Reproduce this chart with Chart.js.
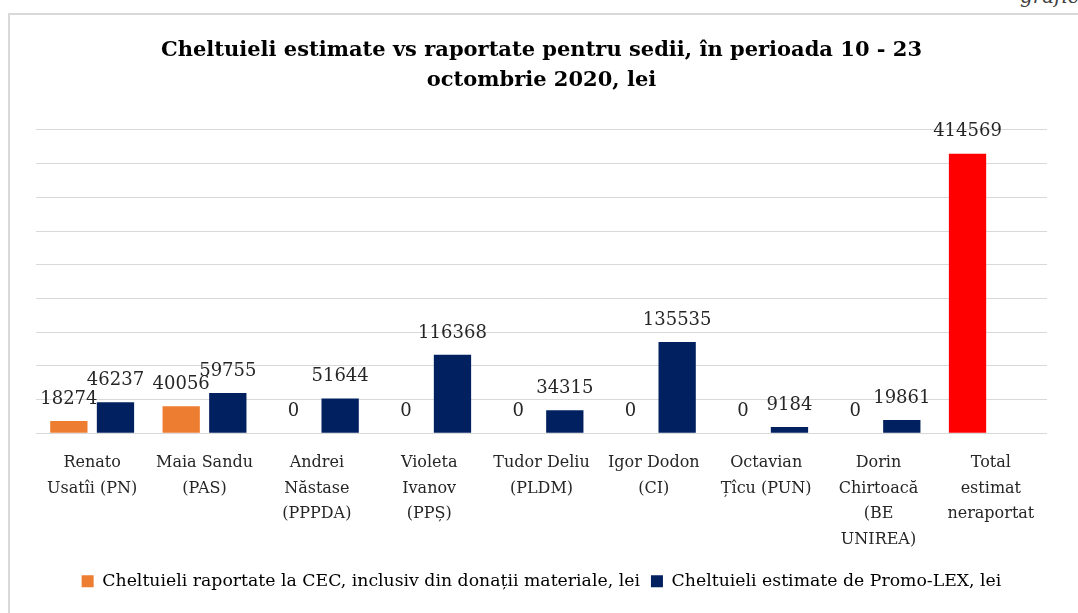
<!DOCTYPE html>
<html>
<head>
<meta charset="utf-8">
<script src="https://cdn.jsdelivr.net/npm/chart.js@4.4.0/dist/chart.umd.min.js"></script>
<style>
  body { margin: 0; background: #fff; overflow: hidden; }
  #box { position: absolute; left: 8px; top: 13px; width: 1080px; height: 620px;
         border-top: 2px solid #d9d9d9; border-left: 2px solid #d9d9d9; }
  #note { position: absolute; left: 1020px; top: -16px; font: italic 20px "DejaVu Serif"; color: #404040; }
</style>
</head>
<body>
<div id="note">grafic</div>
<div id="box"><canvas id="myChart" width="1068" height="598"></canvas></div>
<script>
// categories (candidates) and the two series, values in lei
const candidates = [
  ['Renato', 'Usatîi (PN)'],
  ['Maia Sandu', '(PAS)'],
  ['Andrei', 'Năstase', '(PPPDA)'],
  ['Violeta', 'Ivanov', '(PPȘ)'],
  ['Tudor Deliu', '(PLDM)'],
  ['Igor Dodon', '(CI)'],
  ['Octavian', 'Țîcu (PUN)'],
  ['Dorin', 'Chirtoacă', '(BE', 'UNIREA)'],
  ['Total', 'estimat', 'neraportat']
];
const reportedCEC = [18274, 40056, 0, 0, 0, 0, 0, 0, 414569]; // last one = total estimated, not reported
const estimatedPromoLex = [46237, 59755, 51644, 116368, 34315, 135535, 9184, 19861, null];
const reportedColors = ['#ED7D31', '#ED7D31', '#ED7D31', '#ED7D31', '#ED7D31', '#ED7D31', '#ED7D31', '#ED7D31', '#FF0000'];

// value labels above each bar
const valueLabels = {
  id: 'valueLabels',
  afterDatasetsDraw(chart) {
    const c = chart.ctx;
    c.save();
    c.font = '18px "DejaVu Serif"';
    c.fillStyle = '#262626';
    c.textAlign = 'center';
    c.textBaseline = 'middle';
    chart.data.datasets.forEach((ds, i) => {
      chart.getDatasetMeta(i).data.forEach((bar, j) => {
        const v = ds.data[j];
        if (v === null) return;
        c.fillText(String(v), bar.x, bar.y - 22);
      });
    });
    c.restore();
  }
};

const ctx = document.getElementById('myChart');

new Chart(ctx, {
  type: 'bar',
  data: {
    labels: candidates,
    datasets: [
      {
        label: 'Cheltuieli raportate la CEC, inclusiv din donații materiale, lei',
        data: reportedCEC,
        backgroundColor: reportedColors,
      },
      {
        label: 'Cheltuieli estimate de Promo-LEX, lei',
        data: estimatedPromoLex,
        backgroundColor: '#002060',
      },
    ],
  },
  options: {
    responsive: false,
    animation: false,
    barPercentage: 0.8,
    categoryPercentage: 0.83,
    layout: { padding: { left: 26, right: 31, top: 0, bottom: 13 } },
    plugins: {
      title: {
        display: true,
        text: ['Cheltuieli estimate vs raportate pentru sedii, în perioada 10 - 23', 'octombrie 2020, lei'],
        color: '#000',
        font: { family: 'DejaVu Serif', size: 21, weight: 'bold', lineHeight: 1.45 },
        padding: { top: 20, bottom: 34 },
      },
      legend: {
        position: 'bottom',
        labels: {
          color: '#262626',
          font: { family: 'DejaVu Serif', size: 17.3 },
          boxWidth: 12,
          boxHeight: 12,
          padding: 11,
          generateLabels: (chart) => chart.data.datasets.map((ds, i) => ({
            text: ds.label,
            fillStyle: i === 0 ? '#ED7D31' : '#002060',
            strokeStyle: 'transparent',
            lineWidth: 0,
            datasetIndex: i,
          })),
        },
      },
      tooltip: { enabled: false },
    },
    scales: {
      x: {
        grid: { display: false },
        border: { display: false },
        ticks: {
          color: '#262626',
          font: { family: 'DejaVu Serif', size: 16, lineHeight: 1.6 },
          padding: 9,
          maxRotation: 0,
          autoSkip: false,
        },
      },
      y: {
        min: 0,
        max: 450000,
        ticks: { display: false, stepSize: 50000 },
        grid: { color: '#d9d9d9', drawTicks: false },
        border: { display: false },
      },
    },
  },
  plugins: [valueLabels],
});
</script>
</body>
</html>
